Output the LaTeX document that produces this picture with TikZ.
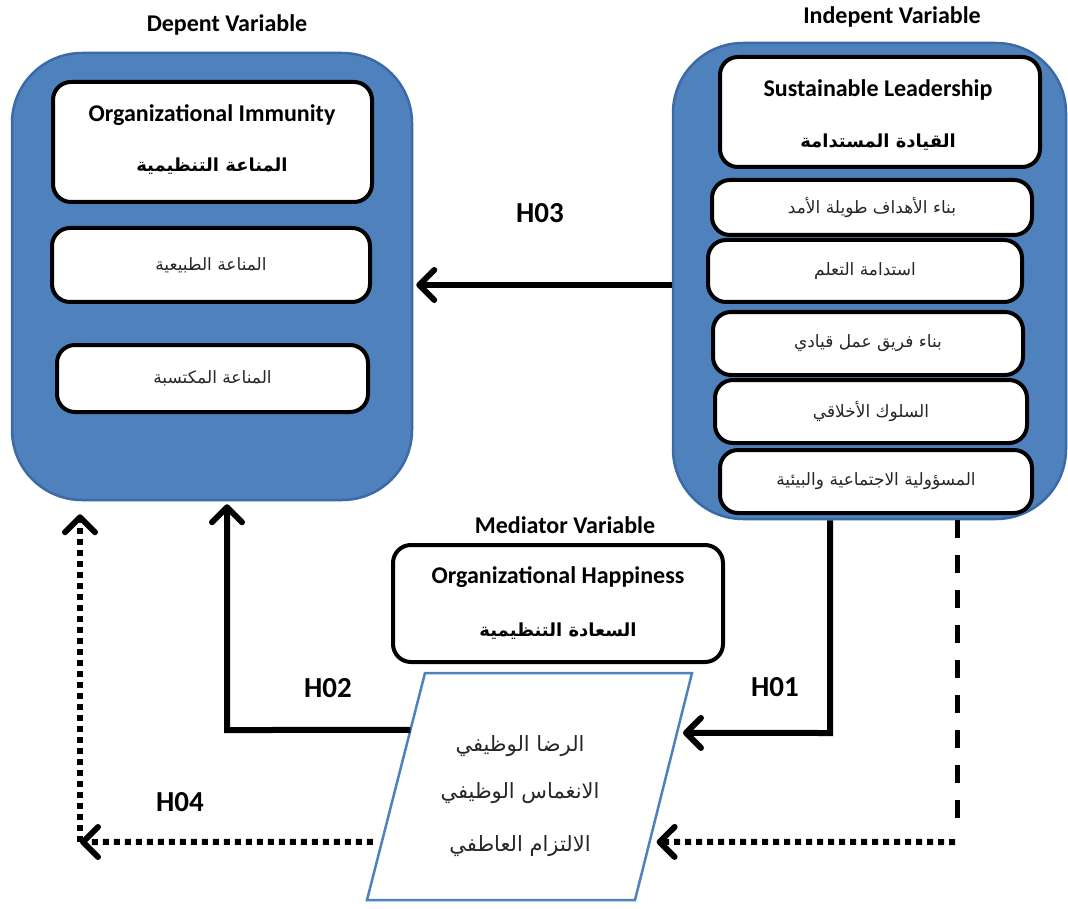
\documentclass[tikz,border=0pt]{standalone}
\usepackage{fontspec}
\setmainfont{Carlito}
\newfontfamily\arabicfont[Script=Arabic]{DejaVu Sans}
\TeXXeTstate=1
\usetikzlibrary{arrows.meta,calc}
\definecolor{panelblue}{HTML}{4F81BD}
\definecolor{paneledge}{HTML}{3A6BA6}
\tikzset{
  panel/.style={draw=paneledge, line width=2.5pt, fill=panelblue,
    rounded corners=70pt, inner sep=0pt},
  itembox/.style={draw=black, line width=4pt, fill=white,
    rounded corners=18pt, inner sep=0pt},
  heading/.style={font=\bfseries\fontsize{24}{28}\selectfont, inner sep=0pt},
  hlabel/.style={font=\bfseries\fontsize{29}{34}\selectfont, inner sep=0pt},
  artitle/.style={font=\arabicfont\bfseries\fontsize{18}{22}\selectfont, inner sep=0pt},
  aritem/.style={font=\arabicfont\fontsize{17}{21}\selectfont, text=black!85},
  arpara/.style={font=\arabicfont\fontsize{21}{25}\selectfont, text=black!85, inner sep=0pt},
  tip/.style={-{Straight Barb[length=15pt,width=30pt,round]}},
  solidlink/.style={line width=6pt, tip},
  dotlink/.style={line width=6pt, dash pattern=on 6pt off 5pt, tip},
  dashlink/.style={line width=5pt, dash pattern=on 18pt off 17pt},
}
\begin{document}
\begin{tikzpicture}[x=1pt,y=-1pt]
\path[use as bounding box, fill=white] (0,0) rectangle (1068,909);

% ---- dependent variable panel ----
\node[heading] (deptitle) at (227,25) {Depent Variable};
\node[panel, minimum width=400pt, minimum height=447pt] (dep) at (212,276.5) {};
\node[itembox, minimum width=319pt, minimum height=120pt] (immun) at (212.5,142) {};
\node[heading] (immunen) at (212,115) {Organizational Immunity};
\node[artitle] (immunar) at (212,166) {\beginR المناعة التنظيمية\endR};
\node[itembox, aritem, minimum width=318pt, minimum height=74pt] (natural) at (211,265) {\beginR المناعة الطبيعية\endR};
\node[itembox, aritem, minimum width=311pt, minimum height=67pt] (acquired) at (212.5,378.5) {\beginR المناعة المكتسبة\endR};

% ---- independent variable panel ----
\node[heading] (indtitle) at (892,17) {Indepent Variable};
\node[panel, minimum width=393pt, minimum height=476pt] (indep) at (869.5,281) {};
\node[itembox, minimum width=320pt, minimum height=110pt] (lead) at (880,112) {};
\node[heading] (leaden) at (878,90) {Sustainable Leadership};
\node[artitle] (leadar) at (878,142) {\beginR القيادة المستدامة\endR};
\node[itembox, aritem, minimum width=320pt, minimum height=55pt] (goals) at (872,207.5) {\beginR بناء الأهداف طويلة الأمد\endR};
\node[itembox, aritem, minimum width=314pt, minimum height=62pt] (learn) at (865,271) {\beginR استدامة التعلم\endR};
\node[itembox, aritem, minimum width=310pt, minimum height=63pt] (team) at (868,343.5) {\beginR بناء فريق عمل قيادي\endR};
\node[itembox, aritem, minimum width=312pt, minimum height=63pt] (ethics) at (871,411.5) {\beginR السلوك الأخلاقي\endR};
\node[itembox, aritem, minimum width=312pt, minimum height=63pt] (social) at (876,481.5) {\beginR المسؤولية الاجتماعية والبيئية\endR};

% ---- mediator variable ----
\node[heading] (medtitle) at (565,525) {Mediator Variable};
\node[itembox, minimum width=330pt, minimum height=117pt] (happy) at (558,603.5) {};
\node[heading] (happyen) at (558,577) {Organizational Happiness};
\node[artitle] (happyar) at (558,631) {\beginR السعادة التنظيمية\endR};

% parallelogram with the mediator dimensions
\coordinate (ptl) at (425,673);
\coordinate (ptr) at (692,673);
\coordinate (pbr) at (635,900);
\coordinate (pbl) at (367,900);
\draw[panelblue, line width=2.5pt, fill=white, line join=miter] (ptl) -- (ptr) -- (pbr) -- (pbl) -- cycle;
\node[arpara] (sat) at (520,746) {\beginR الرضا الوظيفي\endR};
\node[arpara] (eng) at (520,793) {\beginR الانغماس الوظيفي\endR};
\node[arpara] (com) at (520,846) {\beginR الالتزام العاطفي\endR};

% points where the connectors meet the slanted sides
\coordinate (pH02) at ($(ptl)!0.251!(pbl)$);
\coordinate (pH04) at ($(ptl)!0.744!(pbl)$);
\coordinate (pH01) at ($(ptr)!0.264!(pbr)$);
\coordinate (pH05) at ($(ptr)!0.744!(pbr)$);

% ---- hypotheses ----
% H03
\draw[solidlink, shorten >=3pt] ([yshift=-4pt]indep.west) -- (dep.east |- 0,285);
\node[hlabel] (h03) at (540,213) {H03};

% H02
\coordinate (h02corner) at (227,730);
\draw[solidlink, shorten >=3pt] (pH02) -- (h02corner) -- (h02corner |- dep.south);
\node[hlabel] (h02) at (328,688) {H02};

% H01
\coordinate (h01corner) at (830,733);
\draw[solidlink, shorten >=6pt] (h01corner |- indep.south) -- (h01corner) -- (pH01);
\node[hlabel] (h01) at (775,687) {H01};

% indirect path: dashed drop, dotted approach
\coordinate (dropend) at (957,830);
\draw[dashlink] (dropend |- indep.south) -- (dropend);
\coordinate (dotstart) at (955,842);
\draw[dotlink, shorten >=7pt] (dotstart) -- (pH05);

% H04
\coordinate (h04corner) at (80,842);
\draw[dotlink, shorten <=9pt] (pH04) -- (h04corner);
\draw[dotlink, shorten >=13pt] (h04corner) -- (h04corner |- dep.south);
\node[hlabel] (h04) at (180,802) {H04};
\end{tikzpicture}
\end{document}
